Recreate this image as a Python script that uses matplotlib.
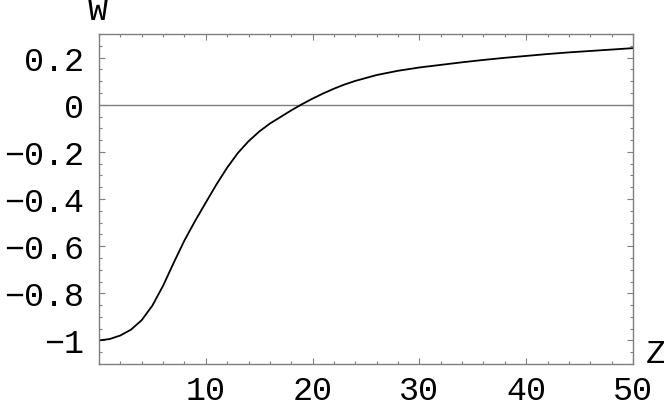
import matplotlib
matplotlib.use("Agg")
import matplotlib.pyplot as plt
from matplotlib.ticker import MultipleLocator, FixedLocator

# curve values
z = [0, 1, 2, 3, 4, 5, 6, 7, 8, 9, 10, 11, 12, 13, 14, 15, 16, 17, 18, 19,
     20, 21, 22, 23, 24, 26, 28, 30, 32, 34, 36, 38, 40, 42, 44, 46, 48, 50]
w = [-1.0, -0.994, -0.979, -0.954, -0.914, -0.852, -0.768, -0.670, -0.576,
     -0.493, -0.415, -0.338, -0.267, -0.205, -0.155, -0.114, -0.080, -0.052,
     -0.024, 0.002, 0.026, 0.048, 0.068, 0.086, 0.101, 0.126, 0.144, 0.158,
     0.169, 0.180, 0.190, 0.199, 0.207, 0.215, 0.222, 0.228, 0.234, 0.240]

xticks = [10, 20, 30, 40, 50]
xticklabels = ["10", "20", "30", "40", "50"]
yticks = [0.2, 0, -0.2, -0.4, -0.6, -0.8, -1]
yticklabels = ["0.2", "0", "\u22120.2", "\u22120.4", "\u22120.6", "\u22120.8", "\u22121"]

FONT = "Liberation Mono"
GRAY = "#7f7f7f"

fig = plt.figure(figsize=(6.64, 4.02), dpi=100)
ax = fig.add_axes([99/664, 37/402, 534/664, 330/402])

ax.axhline(0, color=GRAY, lw=1.0, zorder=1)
ax.plot(z, w, color="black", lw=1.3, zorder=2)

ax.set_xlim(0, 50)
ax.set_ylim(-1.1, 0.3)

ax.xaxis.set_major_locator(FixedLocator(xticks))
ax.xaxis.set_minor_locator(MultipleLocator(2))
ax.yaxis.set_major_locator(FixedLocator(yticks))
ax.yaxis.set_minor_locator(MultipleLocator(0.05))
ax.set_xticklabels(xticklabels, fontfamily=FONT, fontsize=24)
ax.set_yticklabels(yticklabels, fontfamily=FONT, fontsize=24)

ax.tick_params(which="both", direction="in", top=True, right=True, color=GRAY, width=0.8)
ax.tick_params(which="major", length=4.5)
ax.tick_params(which="minor", length=2.5)
ax.tick_params(axis="x", pad=8)
ax.tick_params(axis="y", pad=11)

for sp in ax.spines.values():
    sp.set_color(GRAY)
    sp.set_linewidth(1.0)

fig.text(98/664, 1 - 11/402, "W", fontfamily=FONT, fontsize=24, ha="center", va="center")
fig.text(656/664, 1 - 355/402, "Z", fontfamily=FONT, fontsize=24, ha="center", va="center")

fig.savefig("out.png", dpi=100)
